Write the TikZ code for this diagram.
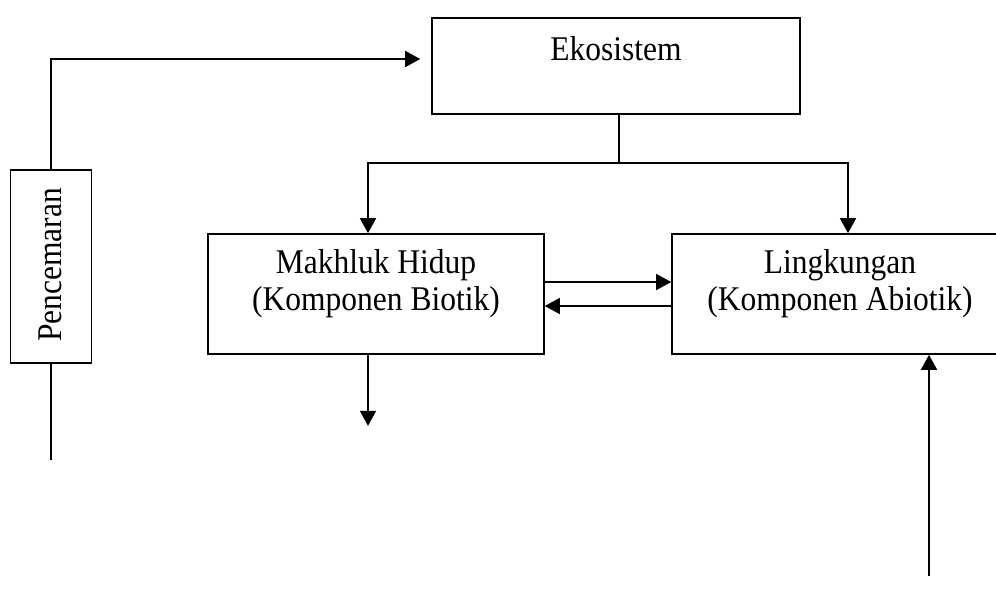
\documentclass[tikz,border=0pt]{standalone}
\usepackage{fontspec}
\usepackage{graphicx}
\setmainfont{Liberation Serif}
\usetikzlibrary{arrows.meta}
\newcommand\tallt[1]{\scalebox{1}[1.1]{#1}}
\begin{document}
\begin{tikzpicture}[x=1pt,y=-1pt,
  box/.style={draw,line width=1.6pt,inner sep=0pt},
  txt/.style={inner sep=0pt,align=center,font=\fontsize{31.5}{37}\selectfont},
  ln/.style={line width=1.6pt},
  arr/.style={line width=1.6pt,-{Triangle[length=15pt,width=16pt]}}]
\useasboundingbox (0,0) rectangle (996,603);
\clip (0,0) rectangle (996,603);
% boxes
\node[box,minimum width=368pt,minimum height=96pt] (eko) at (616,66) {};
\node[box,minimum width=336pt,minimum height=120pt] (mak) at (376,294) {};
\node[box,minimum width=338pt,minimum height=120pt] (lin) at (841,294) {};
\node[box,minimum width=81pt,minimum height=193pt] (pen) at (51,266.5) {};
% texts
\node[txt,anchor=base] (ekot) at (616,60) {\tallt{Ekosistem}};
\node[txt] (makt) at (376,283.5) {\tallt{Makhluk Hidup}\\\tallt{(Komponen Biotik)}};
\node[txt] (lint) at (840,283.5) {\tallt{Lingkungan}\\\tallt{(Komponen Abiotik)}};
\node[txt,rotate=90,anchor=base] (pent) at (61,265) {\tallt{Pencemaran}};
% connectors
\draw[arr,shorten >=11pt] (pen.north) |- ([yshift=7pt]eko.west);
\coordinate (pe) at ([yshift=-96pt]pen.south);
\draw[ln] (pen.south) -- (pe);
\coordinate (br) at ([xshift=3pt,yshift=-48pt]eko.south);
\draw[ln] ([xshift=3pt]eko.south) -- (br);
\draw[arr] (br) -| ([xshift=-8pt]mak.north);
\draw[arr] (br) -| ([xshift=7pt]lin.north);
\draw[arr] ([yshift=12pt]mak.east) -- ([yshift=12pt]lin.west);
\draw[arr] ([yshift=-12pt]lin.west) -- ([yshift=-12pt]mak.east);
\coordinate (mo) at ([xshift=-8pt,yshift=-71pt]mak.south);
\draw[arr] ([xshift=-8pt]mak.south) -- (mo);
\coordinate (li) at ([xshift=88pt,yshift=-221pt]lin.south);
\draw[arr] (li) -- ([xshift=88pt]lin.south);
\end{tikzpicture}
\end{document}
